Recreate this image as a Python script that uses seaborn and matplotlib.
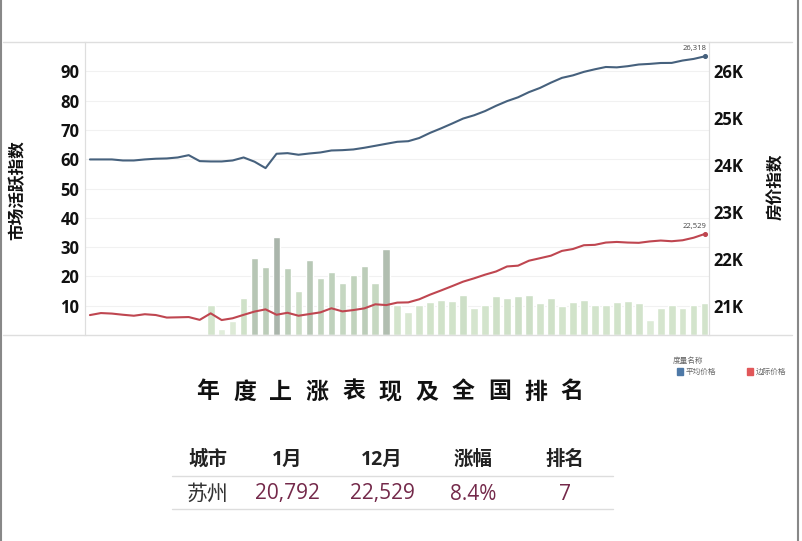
import numpy as np
import pandas as pd
import matplotlib
matplotlib.use("Agg")
import matplotlib.pyplot as plt
from matplotlib.colors import LinearSegmentedColormap
from matplotlib.lines import Line2D
import seaborn as sns

# ─────────────────────────────────────────────
# Data (weekly points over the year)
# ─────────────────────────────────────────────
weeks = list(range(57))

# 平均价格 (right axis)
avg_price = [24120, 24120, 24120, 24098, 24098, 24120, 24135, 24141, 24162, 24211,
             24084, 24077, 24077, 24098, 24162, 24071, 23935, 24241, 24254, 24220,
             24247, 24269, 24311, 24318, 24333, 24369, 24411, 24454, 24496, 24509,
             24577, 24688, 24784, 24886, 24992, 25062, 25152, 25264, 25364, 25445,
             25556, 25645, 25758, 25860, 25913, 25988, 26043, 26092, 26084, 26109,
             26145, 26158, 26177, 26179, 26230, 26264, 26318]

# 边际价格 (right axis)
marginal_price = [20800, 20843, 20832, 20807, 20786, 20818, 20801, 20747, 20752, 20758,
                  20698, 20837, 20694, 20732, 20805, 20875, 20922, 20807, 20849, 20786,
                  20822, 20858, 20945, 20879, 20907, 20943, 21030, 21013, 21066, 21071,
                  21137, 21237, 21326, 21418, 21513, 21584, 21662, 21730, 21837, 21854,
                  21960, 22013, 22067, 22169, 22209, 22290, 22298, 22347, 22360, 22347,
                  22341, 22371, 22390, 22375, 22396, 22450, 22529]

# 市场活跃指数 bars (left axis), weeks 11..56
bar_weeks = list(range(11, 57))
activity = [10.2, 2.0, 4.9, 12.5, 26.2, 23.3, 33.6, 22.7, 15.0, 25.5,
            19.3, 21.6, 17.9, 20.5, 23.5, 17.7, 29.5, 10.3, 7.7, 10.2,
            11.3, 11.8, 11.5, 13.8, 9.2, 10.2, 13.2, 12.5, 13.3, 13.8,
            10.9, 12.5, 10.0, 11.3, 11.9, 10.3, 10.3, 11.1, 11.6, 10.9,
            5.1, 9.1, 10.3, 9.1, 10.3, 10.9]

left_ticks = [10, 20, 30, 40, 50, 60, 70, 80, 90]
right_ticks = [21000, 22000, 23000, 24000, 25000, 26000]
right_labels = ["21K", "22K", "23K", "24K", "25K", "26K"]

title_text = "年度上涨表现及全国排名"
table_header = ["城市", "1月", "12月", "涨幅", "排名"]
table_row = ["苏州", "20,792", "22,529", "8.4%", "7"]

BLUE = "#46617d"
RED = "#bf4650"
LEG_BLUE = "#4e79a7"
LEG_RED = "#e15759"
AXIS_GRAY = "#dedede"
MAROON = "#74294a"

CJK = ["Noto Sans CJK SC", "DejaVu Sans"]
NUM = ["Open Sans", "Noto Sans CJK SC", "DejaVu Sans"]

sns.set_theme(style="white")
plt.rcParams["font.family"] = CJK

fig = plt.figure(figsize=(8.02, 5.41), dpi=100)
W, H = 802, 541


def fx(px):
    return px / W


def fy(py):
    return 1 - py / H


ax = fig.add_axes([fx(85), fy(335), fx(709) - fx(85), fy(42) - fy(335)])
ax2 = ax.twinx()

# bars coloured by their value, light green -> grey green
bar_cmap = LinearSegmentedColormap.from_list(
    "act", ["#e5efdf", "#d1e3ca", "#bdcfba", "#a9b4aa"])
bars = pd.DataFrame({"week": bar_weeks, "activity": activity})
sns.barplot(data=bars, x="week", y="activity", hue="activity",
            palette=bar_cmap, hue_norm=(0, 34), native_scale=True,
            dodge=False, legend=False, width=0.7, saturation=1, ax=ax)

ax.set_xlim(-0.45, 56.4)
ax.set_ylim(0, 100)
ax.set_yticks(left_ticks)
ax.set_yticklabels([str(t) for t in left_ticks], fontsize=12,
                   fontweight="bold", family=NUM, color="#111111")
ax.tick_params(axis="y", length=0, pad=4)
ax.set_xticks([])
ax.set_xlabel("")
ax.set_ylabel("")
for t in left_ticks:
    ax.axhline(t, color="#f1f1f1", lw=0.8, zorder=0)

# price lines on the right axis
lines = pd.DataFrame({"week": weeks, "avg": avg_price, "marg": marginal_price})
sns.lineplot(data=lines, x="week", y="avg", color=BLUE, lw=1.5, ax=ax2)
sns.lineplot(data=lines, x="week", y="marg", color=RED, lw=1.5, ax=ax2)
ax2.scatter([weeks[-1]], [avg_price[-1]], s=7, color=BLUE, zorder=5)
ax2.scatter([weeks[-1]], [marginal_price[-1]], s=7, color=RED, zorder=5)
ax2.text(weeks[-1] + 0.2, avg_price[-1] + 90, f"{avg_price[-1]:,}", fontsize=5.5,
         color="#444444", ha="right", va="bottom", family=NUM)
ax2.text(weeks[-1] + 0.2, marginal_price[-1] + 90, f"{marginal_price[-1]:,}",
         fontsize=5.5, color="#444444", ha="right", va="bottom", family=NUM)

ax2.set_ylim(20375, 26625)
ax2.set_yticks(right_ticks)
ax2.set_yticklabels(right_labels, fontsize=12, fontweight="bold",
                    family=NUM, color="#111111")
ax2.tick_params(axis="y", length=0, pad=3)
ax2.set_ylabel("")
ax2.set_xlabel("")

for a in (ax, ax2):
    a.spines["top"].set_visible(False)
    a.spines["bottom"].set_visible(False)
    a.spines["left"].set_color(AXIS_GRAY)
    a.spines["right"].set_color(AXIS_GRAY)
    a.spines["left"].set_linewidth(0.8)
    a.spines["right"].set_linewidth(0.8)
    a.set_facecolor("none")

# long top / bottom rules and the frame edges
fig.add_artist(Line2D([fx(3), fx(792)], [fy(42), fy(42)], color=AXIS_GRAY, lw=1))
fig.add_artist(Line2D([fx(3), fx(792)], [fy(335), fy(335)], color=AXIS_GRAY, lw=1))
fig.add_artist(Line2D([fx(1), fx(1)], [0, 1], color="#888888", lw=1.5))
fig.add_artist(Line2D([fx(798), fx(798)], [0, 1], color="#888888", lw=1.5))

# axis titles
fig.text(fx(17), fy(190), "市场活跃指数", rotation=90, ha="center", va="center",
         fontsize=12, fontweight="bold", color="#111111")
fig.text(fx(776), fy(187), "房价指数", rotation=90, ha="center", va="center",
         fontsize=12, fontweight="bold", color="#111111")

# legend
fig.text(fx(673), fy(361.5), "度量名称", fontsize=5.5, color="#666666",
         ha="left", va="center")
fig.patches.append(plt.Rectangle((fx(677), fy(375)), fx(6), 7 / H,
                                 transform=fig.transFigure, color=LEG_BLUE))
fig.text(fx(686), fy(371.5), "平均价格", fontsize=5.5, color="#666666",
         ha="left", va="center")
fig.patches.append(plt.Rectangle((fx(747), fy(375)), fx(6), 7 / H,
                                 transform=fig.transFigure, color=LEG_RED))
fig.text(fx(756), fy(371.5), "边际价格", fontsize=5.5, color="#666666",
         ha="left", va="center")

# spaced-out title
for i, ch in enumerate(title_text):
    fig.text(fx(208 + 36.4 * i), fy(392), ch, fontsize=16.5, fontweight="bold",
             color="#111111", ha="center", va="center")

# small ranking table
col_x = [208, 287, 382, 473, 565]
for cx, h in zip(col_x, table_header):
    fig.text(fx(cx), fy(460), h, fontsize=14, fontweight="bold",
             color="#222222", ha="center", va="center", family=NUM)
for j, (cx, v) in enumerate(zip(col_x, table_row)):
    fig.text(fx(cx), fy(494), v, fontsize=15, ha="center", va="center",
             color="#333333" if j == 0 else MAROON, family=NUM)
fig.add_artist(Line2D([fx(172), fx(613)], [fy(476), fy(476)], color="#dddddd", lw=1))
fig.add_artist(Line2D([fx(172), fx(613)], [fy(509), fy(509)], color="#dddddd", lw=1))

fig.savefig("out.png", dpi=100, facecolor="white")
